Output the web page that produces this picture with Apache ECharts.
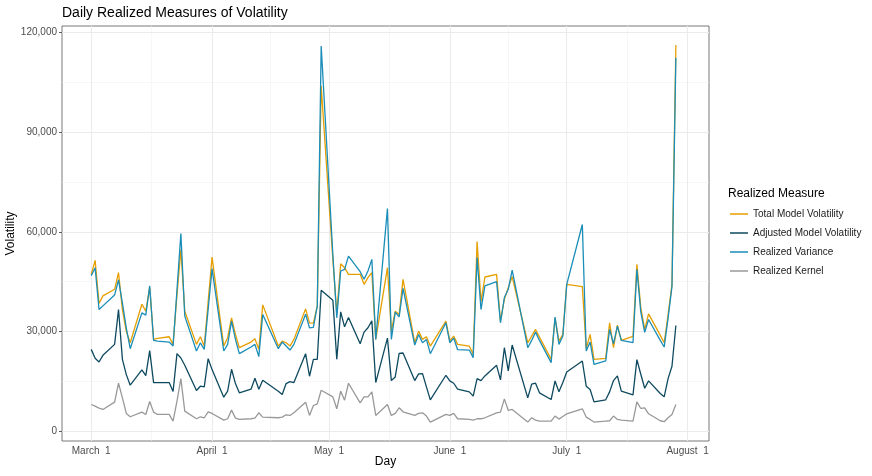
<!DOCTYPE html>
<html>
<head>
<meta charset="UTF-8">
<title>Daily Realized Measures of Volatility</title>
<script src="https://cdn.jsdelivr.net/npm/echarts@6/dist/echarts.min.js"></script>
<style>
	html, body { margin:0; padding:0; background:#ffffff; }
	#chart { width:872px; height:476px; }
</style>
</head>
<body>
<div id="chart"></div>

<script type="text/javascript">
	// trading days shown in the picture
	var days = [
		'2022-03-01','2022-03-02','2022-03-03','2022-03-04','2022-03-07','2022-03-08','2022-03-09','2022-03-10','2022-03-11',
		'2022-03-14','2022-03-15','2022-03-16','2022-03-17','2022-03-18','2022-03-21','2022-03-22','2022-03-23','2022-03-24','2022-03-25',
		'2022-03-28','2022-03-29','2022-03-30','2022-03-31','2022-04-01',
		'2022-04-04','2022-04-05','2022-04-06','2022-04-07','2022-04-08','2022-04-11','2022-04-12','2022-04-13','2022-04-14',
		'2022-04-18','2022-04-19','2022-04-20','2022-04-21','2022-04-22','2022-04-25','2022-04-26','2022-04-27','2022-04-28','2022-04-29',
		'2022-05-02','2022-05-03','2022-05-04','2022-05-05','2022-05-06','2022-05-09','2022-05-10','2022-05-11','2022-05-12','2022-05-13',
		'2022-05-16','2022-05-17','2022-05-18','2022-05-19','2022-05-20','2022-05-23','2022-05-24','2022-05-25','2022-05-26','2022-05-27',
		'2022-05-31','2022-06-01','2022-06-02','2022-06-03','2022-06-06','2022-06-07','2022-06-08','2022-06-09','2022-06-10',
		'2022-06-13','2022-06-14','2022-06-15','2022-06-16','2022-06-17','2022-06-21','2022-06-22','2022-06-23','2022-06-24',
		'2022-06-27','2022-06-28','2022-06-29','2022-06-30','2022-07-01','2022-07-05','2022-07-06','2022-07-07','2022-07-08',
		'2022-07-11','2022-07-12','2022-07-13','2022-07-14','2022-07-15','2022-07-18','2022-07-19','2022-07-20','2022-07-21','2022-07-22',
		'2022-07-25','2022-07-26','2022-07-27','2022-07-28','2022-07-29'
	];

	var totalModel = [
		47200,51400,38400,40700,42700,47700,36500,30000,26600,
		38200,36100,43200,27600,27900,28400,26100,41000,54700,36100,
		26100,28400,25600,39000,52400,
		25600,28100,34100,29100,25100,26800,27800,24600,38000,
		25600,27100,26600,25600,27600,36800,32600,32500,37700,103900,
		51500,35500,50400,49200,47200,47200,44200,46200,47700,27600,
		49200,30100,36100,35100,45700,26600,30100,27600,28400,25600,
		33100,27200,28600,26100,25600,23100,57100,39000,46400,
		47200,33100,39700,43200,46500,26600,28600,30600,28300,
		21600,34000,27100,29100,44200,43500,24800,29100,21600,
		21900,32600,25100,31900,27300,28500,50200,37100,30600,35300,
		28800,26600,35000,44200,116300
	];

	var adjustedModel = [
		24600,21900,20800,22800,26100,36600,21600,17000,13800,
		18400,16700,24200,14600,14600,14600,11900,23300,22000,19800,
		12200,13500,13300,21800,18500,
		10200,12000,18600,14300,11500,12600,15900,12600,15300,
		12000,11000,14300,14900,14600,23300,16500,21600,21600,42400,
		39400,21600,35900,31400,34200,26300,29800,31100,33200,14600,
		28000,15200,16300,23400,23500,15200,17200,17300,13300,9400,
		16800,15100,14400,12600,11800,10500,15800,15200,16600,
		19800,15400,25100,18100,25900,10000,14100,14400,11500,
		9500,15100,11800,14600,17800,21100,13500,12500,8800,
		9400,11800,15200,16600,12000,10900,21500,17100,12900,15100,
		11300,10300,15800,19500,31800
	];

	var realizedVariance = [
		46800,49200,36600,37700,41000,45500,38500,31000,24800,
		35600,34900,43700,27300,27100,26800,25600,42500,59500,34600,
		24100,26600,24600,36700,48900,
		24100,26100,33100,27600,23300,25300,26100,22400,35100,
		24800,26800,25600,24400,26100,35200,31100,31200,37700,116000,
		53000,34100,48200,48700,52700,48000,45700,48200,51700,27600,
		67000,27600,35800,34400,43000,25900,29100,26600,27600,23300,
		32600,26600,28000,24500,24400,22100,52300,36600,43700,
		45000,32600,40200,42700,48500,25100,27300,29800,27300,
		20600,34300,26100,28600,44200,62200,24100,26800,20100,
		21100,30600,26300,31600,27300,26600,48700,35900,29700,33600,
		27300,25300,34000,43500,112400
	];

	var realizedKernel = [
		8000,7500,6900,6500,8700,14400,10000,5300,4300,
		5700,5000,8900,5700,5000,5000,3000,9000,15800,6000,
		3700,4300,4000,5800,5300,
		3300,3700,6300,3900,3500,3700,3900,5500,4200,
		4000,4200,4900,4700,5500,8700,4700,7700,8200,12300,
		10300,6700,12000,9300,14400,8500,10300,10300,11800,4700,
		8000,4700,5300,7000,5800,4700,5300,5500,4500,2700,
		5000,4700,5300,3700,3500,3300,3700,3700,4000,
		5500,5700,9700,6200,6500,2700,4000,3300,3000,
		3000,4500,3600,4400,5200,6700,4200,3500,2700,
		3000,3100,4500,3500,3300,3000,8800,6800,7000,5200,
		3100,2800,4000,5000,8000
	];

	var seriesNames = ['Total Model Volatility', 'Adjusted Model Volatility', 'Realized Variance', 'Realized Kernel'];
	var seriesColors = ['#E69F00', '#0E4A5F', '#1A8DB8', '#999999'];

	var yTicks = [0, 30000, 60000, 90000, 120000];
	var yMinorTicks = [15000, 45000, 75000, 105000];
	var monthTicks = ['2022-03-01', '2022-04-01', '2022-05-01', '2022-06-01', '2022-07-01', '2022-08-01'];
	var monthLabels = ['March  1', 'April  1', 'May  1', 'June  1', 'July  1', 'August  1'];
	var monthMinorTicks = ['2022-03-16 12:00', '2022-04-16 00:00', '2022-05-16 12:00', '2022-06-16 00:00', '2022-07-16 12:00'];

	// local-time parse of 'YYYY-MM-DD[ HH:mm]'
	function toTime(s)
	{
		var p = s.split(/[- :]/);
		return new Date(+p[0], +p[1] - 1, +p[2], p[3] ? +p[3] : 0, p[4] ? +p[4] : 0).getTime();
	}

	var chart = echarts.init(document.getElementById('chart'), null, {renderer: 'canvas'});

	var font = '"Liberation Sans", Arial, Helvetica, sans-serif';
	var valueLists = [totalModel, adjustedModel, realizedVariance, realizedKernel];
	var tickTimes = monthTicks.map(toTime);

	var gridData = [];
	yMinorTicks.forEach(function(v) { gridData.push({yAxis: v, lineStyle: {color: '#F2F2F2', width: 0.6, type: 'solid'}}); });
	monthMinorTicks.forEach(function(t) { gridData.push({xAxis: toTime(t), lineStyle: {color: '#F2F2F2', width: 0.6, type: 'solid'}}); });
	yTicks.forEach(function(v) { gridData.push({yAxis: v, lineStyle: {color: '#EBEBEB', width: 1.1, type: 'solid'}}); });
	tickTimes.forEach(function(t) { gridData.push({xAxis: t, lineStyle: {color: '#EBEBEB', width: 1.1, type: 'solid'}}); });

	var series = [{
		name: 'grid',
		type: 'line',
		data: [],
		z: 1,
		silent: true,
		markLine: {
			silent: true,
			z: 1,
			animation: false,
			symbol: ['none', 'none'],
			label: {show: false},
			emphasis: {disabled: true},
			data: gridData
		}
	}];
	seriesNames.forEach(function(name, k)
	{
		series.push({
			name: name,
			type: 'line',
			z: 3 + k,
			showSymbol: false,
			symbol: 'none',
			color: seriesColors[k],
			lineStyle: {width: 1.3, color: seriesColors[k]},
			emphasis: {disabled: true},
			data: days.map(function(d, i) { return [toTime(d), valueLists[k][i]]; })
		});
	});

	var option =
	{
		animation: false,
		backgroundColor: '#ffffff',
		textStyle: {fontFamily: font},
		title: [
			{
				text: 'Daily Realized Measures of Volatility',
				left: 57, top: 1,
				textStyle: {fontFamily: font, fontSize: 14, fontWeight: 'normal', color: '#000000'}
			},
			{
				text: 'Realized Measure',
				left: 723, top: 183,
				textStyle: {fontFamily: font, fontSize: 12, fontWeight: 'normal', color: '#000000'}
			}
		],
		legend: {
			data: seriesNames,
			orient: 'vertical',
			left: 725, top: 204,
			icon: 'rect',
			itemWidth: 18, itemHeight: 1.5,
			itemGap: 9,
			selectedMode: false,
			textStyle: {fontFamily: font, fontSize: 10, color: '#1A1A1A'}
		},
		grid: {
			left: 62, right: 163, top: 26, bottom: 35,
			outerBoundsMode: 'none',
			containLabel: false,
			show: true,
			borderColor: '#555555', borderWidth: 0.8,
			backgroundColor: 'transparent'
		},
		xAxis: {
			type: 'value',
			min: toTime('2022-02-21 12:00'),
			max: toTime('2022-08-06 12:00'),
			name: 'Day',
			nameLocation: 'middle',
			nameMoveOverlap: false,
			nameGap: 15,
			nameTextStyle: {fontFamily: font, fontSize: 12, color: '#000000'},
			axisLine: {show: false},
			axisTick: {show: true, length: 3, lineStyle: {color: '#333333', width: 0.8}, customValues: tickTimes},
			axisLabel: {
				fontFamily: font, fontSize: 10, color: '#4D4D4D', margin: 5,
				customValues: tickTimes,
				formatter: function(v)
				{
					var i = tickTimes.indexOf(v);
					return i >= 0 ? monthLabels[i] : '';
				}
			},
			splitLine: {show: false},
			minorSplitLine: {show: false}
		},
		yAxis: {
			type: 'value',
			min: -3000,
			max: 122000,
			name: 'Volatility',
			nameLocation: 'middle',
			nameRotate: 90,
			nameMoveOverlap: false,
			nameGap: 45,
			nameTextStyle: {fontFamily: font, fontSize: 12, color: '#000000'},
			axisLine: {show: false},
			axisTick: {show: true, length: 3, lineStyle: {color: '#333333', width: 0.8}, customValues: yTicks},
			axisLabel: {
				fontFamily: font, fontSize: 10, color: '#4D4D4D', margin: 5,
				customValues: yTicks,
				formatter: function(v) { return v.toLocaleString('en-US'); }
			},
			splitLine: {show: false}
		},
		series: series
	};

	chart.setOption(option);
</script>
</body>
</html>
